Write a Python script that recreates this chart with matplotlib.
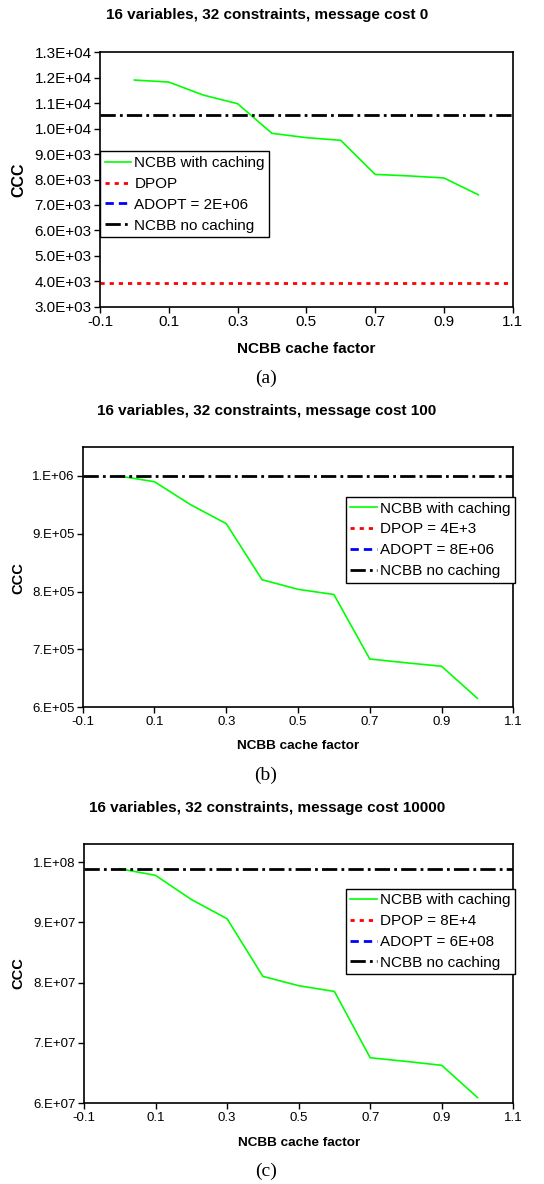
import matplotlib
matplotlib.use('Agg')
import matplotlib.pyplot as plt
from matplotlib.ticker import FuncFormatter

plt.rcParams['font.family'] = ['Liberation Sans', 'DejaVu Sans']

cache = [0.0, 0.1, 0.2, 0.3, 0.4, 0.5, 0.6, 0.7, 0.8, 0.9, 1.0]

# message cost 0
ccc_a = [11910, 11830, 11320, 10980, 9815, 9645, 9540, 8200, 8140, 8060, 7400]
dpop_a = 3940
adopt_a = 2e6
nocache_a = 10540

# message cost 100
ccc_b = [1000000, 990000, 950500, 917500, 820500, 804000, 795000, 683500, 677000, 671000, 615500]
dpop_b = 4e3
adopt_b = 8e6
nocache_b = 999500

# message cost 10000
ccc_c = [98.9e6, 97.8e6, 93.8e6, 90.6e6, 81.05e6, 79.5e6, 78.55e6, 67.55e6, 66.95e6, 66.3e6, 60.95e6]
dpop_c = 8e4
adopt_c = 6e8
nocache_c = 98.85e6

titles = ['16 variables, 32 constraints, message cost 0',
          '16 variables, 32 constraints, message cost 100',
          '16 variables, 32 constraints, message cost 10000']
dpop_labels = ['DPOP', 'DPOP = 4E+3', 'DPOP = 8E+4']
adopt_labels = ['ADOPT = 2E+06', 'ADOPT = 8E+06', 'ADOPT = 6E+08']
xticks = [-0.1, 0.1, 0.3, 0.5, 0.7, 0.9, 1.1]

W, H = 544, 1184
fig = plt.figure(figsize=(W / 100, H / 100), dpi=100)


def px(x, y):
    return x / W, 1 - y / H


def fmt_a(v, pos):
    return '%.1fE+%02d' % (v / 1e3, 3) if v < 1e4 else '%.1fE+%02d' % (v / 1e4, 4)


def fmt_b(v, pos):
    e = 5 if v < 9.99e5 else 6
    return '%d.E+%02d' % (round(v / 10 ** e), e)


def fmt_c(v, pos):
    e = 7 if v < 9.99e7 else 8
    return '%d.E+%02d' % (round(v / 10 ** e), e)


panels = [
    dict(rect=(100, 52.3, 512.7, 306.7), ccc=ccc_a, dpop=dpop_a, adopt=adopt_a, nc=nocache_a,
         ylim=(3000, 13000), ystep=1000, fmt=fmt_a, tfs=11, legloc=(0.0, 0.273),
         title_y=15, xl_y=349, cap_y=378, cap='(a)', yl=(19, 180), xlfs=11, ylfs=11.5,
         leg_anchor='lower left'),
    dict(rect=(82.7, 57 + 390, 513.3, 707.3), ccc=ccc_b, dpop=dpop_b, adopt=adopt_b, nc=nocache_b,
         ylim=(6e5, 1.05e6), ystep=1e5, fmt=fmt_b, tfs=9.5, legloc=(1.004, 0.808),
         title_y=411, xl_y=746, cap_y=775, cap='(b)', yl=(18, 578), xlfs=9.7, ylfs=10.5,
         leg_anchor='upper right'),
    dict(rect=(84, 844, 513.3, 1103.3), ccc=ccc_c, dpop=dpop_c, adopt=adopt_c, nc=nocache_c,
         ylim=(6e7, 1.03e8), ystep=1e7, fmt=fmt_c, tfs=9.5, legloc=(1.004, 0.828),
         title_y=808, xl_y=1143, cap_y=1171, cap='(c)', yl=(18, 973), xlfs=9.7, ylfs=10.5,
         leg_anchor='upper right'),
]

for i, p in enumerate(panels):
    x0, y0, x1, y1 = p['rect']
    ax = fig.add_axes([x0 / W, 1 - y1 / H, (x1 - x0) / W, (y1 - y0) / H])
    ax.plot(cache, p['ccc'], color='#00ff00', lw=1.2, label='NCBB with caching')
    ax.axhline(p['dpop'], color='red', lw=2, ls=(0, (1.5, 1.8)), label=dpop_labels[i])
    ax.axhline(p['adopt'], color='blue', lw=2, ls=(0, (3, 1.8)), label=adopt_labels[i])
    ax.axhline(p['nc'], color='black', lw=2, ls=(0, (5.5, 1.5, 1, 1.5)), label='NCBB no caching')
    ax.set_xlim(-0.1, 1.1)
    ax.set_xticks(xticks)
    ax.set_xticklabels(['%g' % t for t in xticks])
    lo, hi = p['ylim']
    ticks = []
    t = lo
    while t <= hi + 1:
        ticks.append(t)
        t += p['ystep']
    ax.set_ylim(lo, hi)
    ax.set_yticks(ticks)
    ax.yaxis.set_major_formatter(FuncFormatter(p['fmt']))
    ax.tick_params(labelsize=p['tfs'], direction='out', length=4, width=1, pad=2)
    for s in ax.spines.values():
        s.set_linewidth(1.2)
        s.set_color('black')
    leg = ax.legend(loc=p['leg_anchor'], bbox_to_anchor=p['legloc'], fontsize=11,
                    fancybox=False, framealpha=1, edgecolor='black', borderaxespad=0,
                    handlelength=1.75, handletextpad=0.2, borderpad=0.3, labelspacing=0.45)
    leg.get_frame().set_linewidth(1.0)

    fig.text(*px(267, p['title_y']), titles[i], ha='center', va='center', fontsize=11, fontweight='bold')
    fig.text(*px((x0 + x1) / 2, p['xl_y']), 'NCBB cache factor', ha='center', va='center',
             fontsize=p['xlfs'], fontweight='bold')
    fig.text(*px(*p['yl']), 'CCC', ha='center', va='center', rotation=90,
             fontsize=p['ylfs'], fontweight='bold')
    fig.text(*px(266, p['cap_y']), p['cap'], ha='center', va='center', fontsize=14,
             family='Liberation Serif')

fig.savefig('out.png', dpi=100)
